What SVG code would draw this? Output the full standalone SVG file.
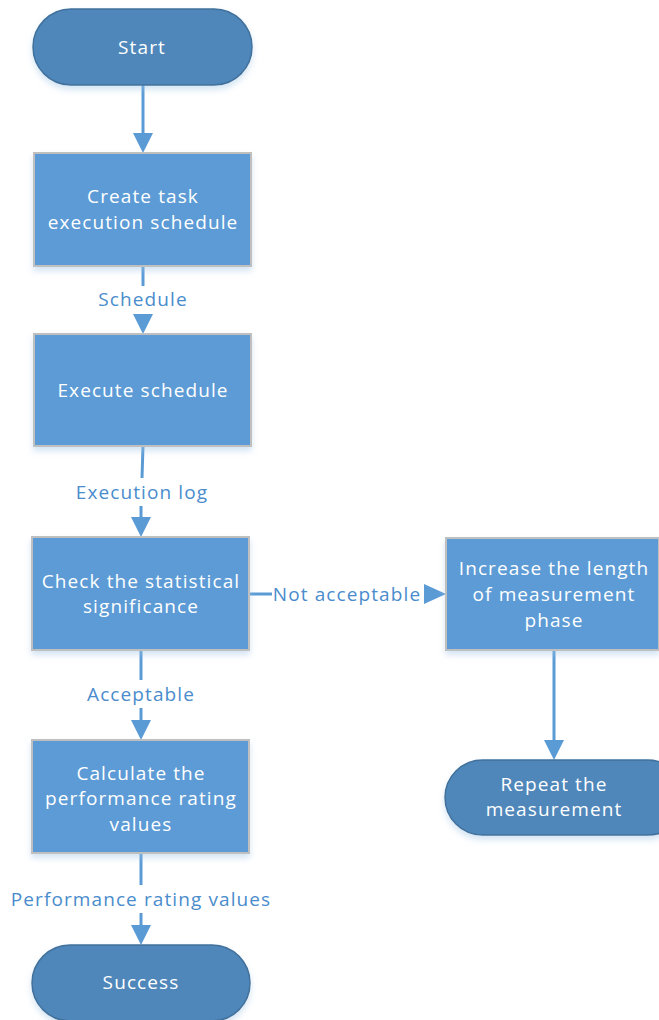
<svg xmlns="http://www.w3.org/2000/svg" width="659" height="1020" viewBox="0 0 659 1020">
<style>
.term{fill:#4f87ba;stroke:#41719c;stroke-width:1.5;filter:url(#sh)}
.proc{fill:#5b9bd5;stroke:#bfbfbf;stroke-width:2;filter:url(#sh)}
.t{font-family:"Open Sans","Noto Sans",sans-serif;font-size:19px;letter-spacing:1.1px;fill:#ffffff;text-anchor:middle}
.lbl{font-family:"Open Sans","Noto Sans",sans-serif;font-size:19px;letter-spacing:1.1px;fill:#4a8ccc;text-anchor:middle}
.c{stroke:#5b9bd5;stroke-width:3;fill:none}
.ah{fill:#5b9bd5}
</style>
<defs>
<filter id="sh" x="-20%" y="-20%" width="140%" height="150%">
<feGaussianBlur in="SourceAlpha" stdDeviation="3"/>
<feOffset dx="0" dy="4" result="b"/>
<feFlood flood-color="#9dc3e6" flood-opacity="0.45"/>
<feComposite in2="b" operator="in"/>
<feMerge><feMergeNode/><feMergeNode in="SourceGraphic"/></feMerge>
</filter>
</defs>
<g id="connectors">
<line class="c" x1="143" y1="85" x2="143" y2="135"/>
<polygon class="ah" points="133,133 153,133 143,153"/>
<line class="c" x1="143" y1="266" x2="143" y2="286"/>
<line class="c" x1="143" y1="314" x2="143" y2="318"/>
<polygon class="ah" points="133,314 153,314 143,334"/>
<line class="c" x1="143" y1="446" x2="142" y2="478"/>
<line class="c" x1="141" y1="506" x2="141" y2="520"/>
<polygon class="ah" points="131,517 151,517 141,537"/>
<line class="c" x1="249" y1="594" x2="272" y2="594"/>
<polygon class="ah" points="424,584 424,604 446,594"/>
<line class="c" x1="141" y1="650" x2="141" y2="680"/>
<line class="c" x1="141" y1="708" x2="141" y2="722"/>
<polygon class="ah" points="131,720 151,720 141,740"/>
<line class="c" x1="141" y1="853" x2="141" y2="885"/>
<line class="c" x1="141" y1="913" x2="141" y2="928"/>
<polygon class="ah" points="131,925 151,925 141,945"/>
<line class="c" x1="554" y1="650" x2="554" y2="742"/>
<polygon class="ah" points="544,740 564,740 554,760"/>
<text class="lbl" x="143" y="306">Schedule</text>
<text class="lbl" x="142" y="499">Execution log</text>
<text class="lbl" x="347" y="601">Not acceptable</text>
<text class="lbl" x="141" y="701">Acceptable</text>
<text class="lbl" x="141" y="906">Performance rating values</text>
</g>
<g id="start">
<rect class="term" x="33" y="9" width="219" height="76" rx="38"/>
<text class="t" x="142" y="54">Start</text>
</g>
<g id="create">
<rect class="proc" x="34" y="153" width="217" height="113"/>
<text class="t" x="143" y="203">Create task</text>
<text class="t" x="143" y="229">execution schedule</text>
</g>
<g id="execute">
<rect class="proc" x="34" y="334" width="217" height="112"/>
<text class="t" x="143" y="397">Execute schedule</text>
</g>
<g id="check">
<rect class="proc" x="32" y="537" width="217" height="113"/>
<text class="t" x="141" y="588">Check the statistical</text>
<text class="t" x="141" y="613">significance</text>
</g>
<g id="increase">
<rect class="proc" x="446" y="538" width="213" height="112"/>
<text class="t" x="554" y="575">Increase the length</text>
<text class="t" x="554" y="601">of measurement</text>
<text class="t" x="554" y="627">phase</text>
</g>
<g id="repeat">
<rect class="term" x="445" y="760" width="240" height="75" rx="37.5"/>
<text class="t" x="554" y="791">Repeat the</text>
<text class="t" x="554" y="816">measurement</text>
</g>
<g id="calculate">
<rect class="proc" x="32" y="740" width="217" height="113"/>
<text class="t" x="141" y="780">Calculate the</text>
<text class="t" x="141" y="805">performance rating</text>
<text class="t" x="141" y="831">values</text>
</g>
<g id="success">
<rect class="term" x="32" y="945" width="218" height="76" rx="38"/>
<text class="t" x="141" y="989">Success</text>
</g>
</svg>
